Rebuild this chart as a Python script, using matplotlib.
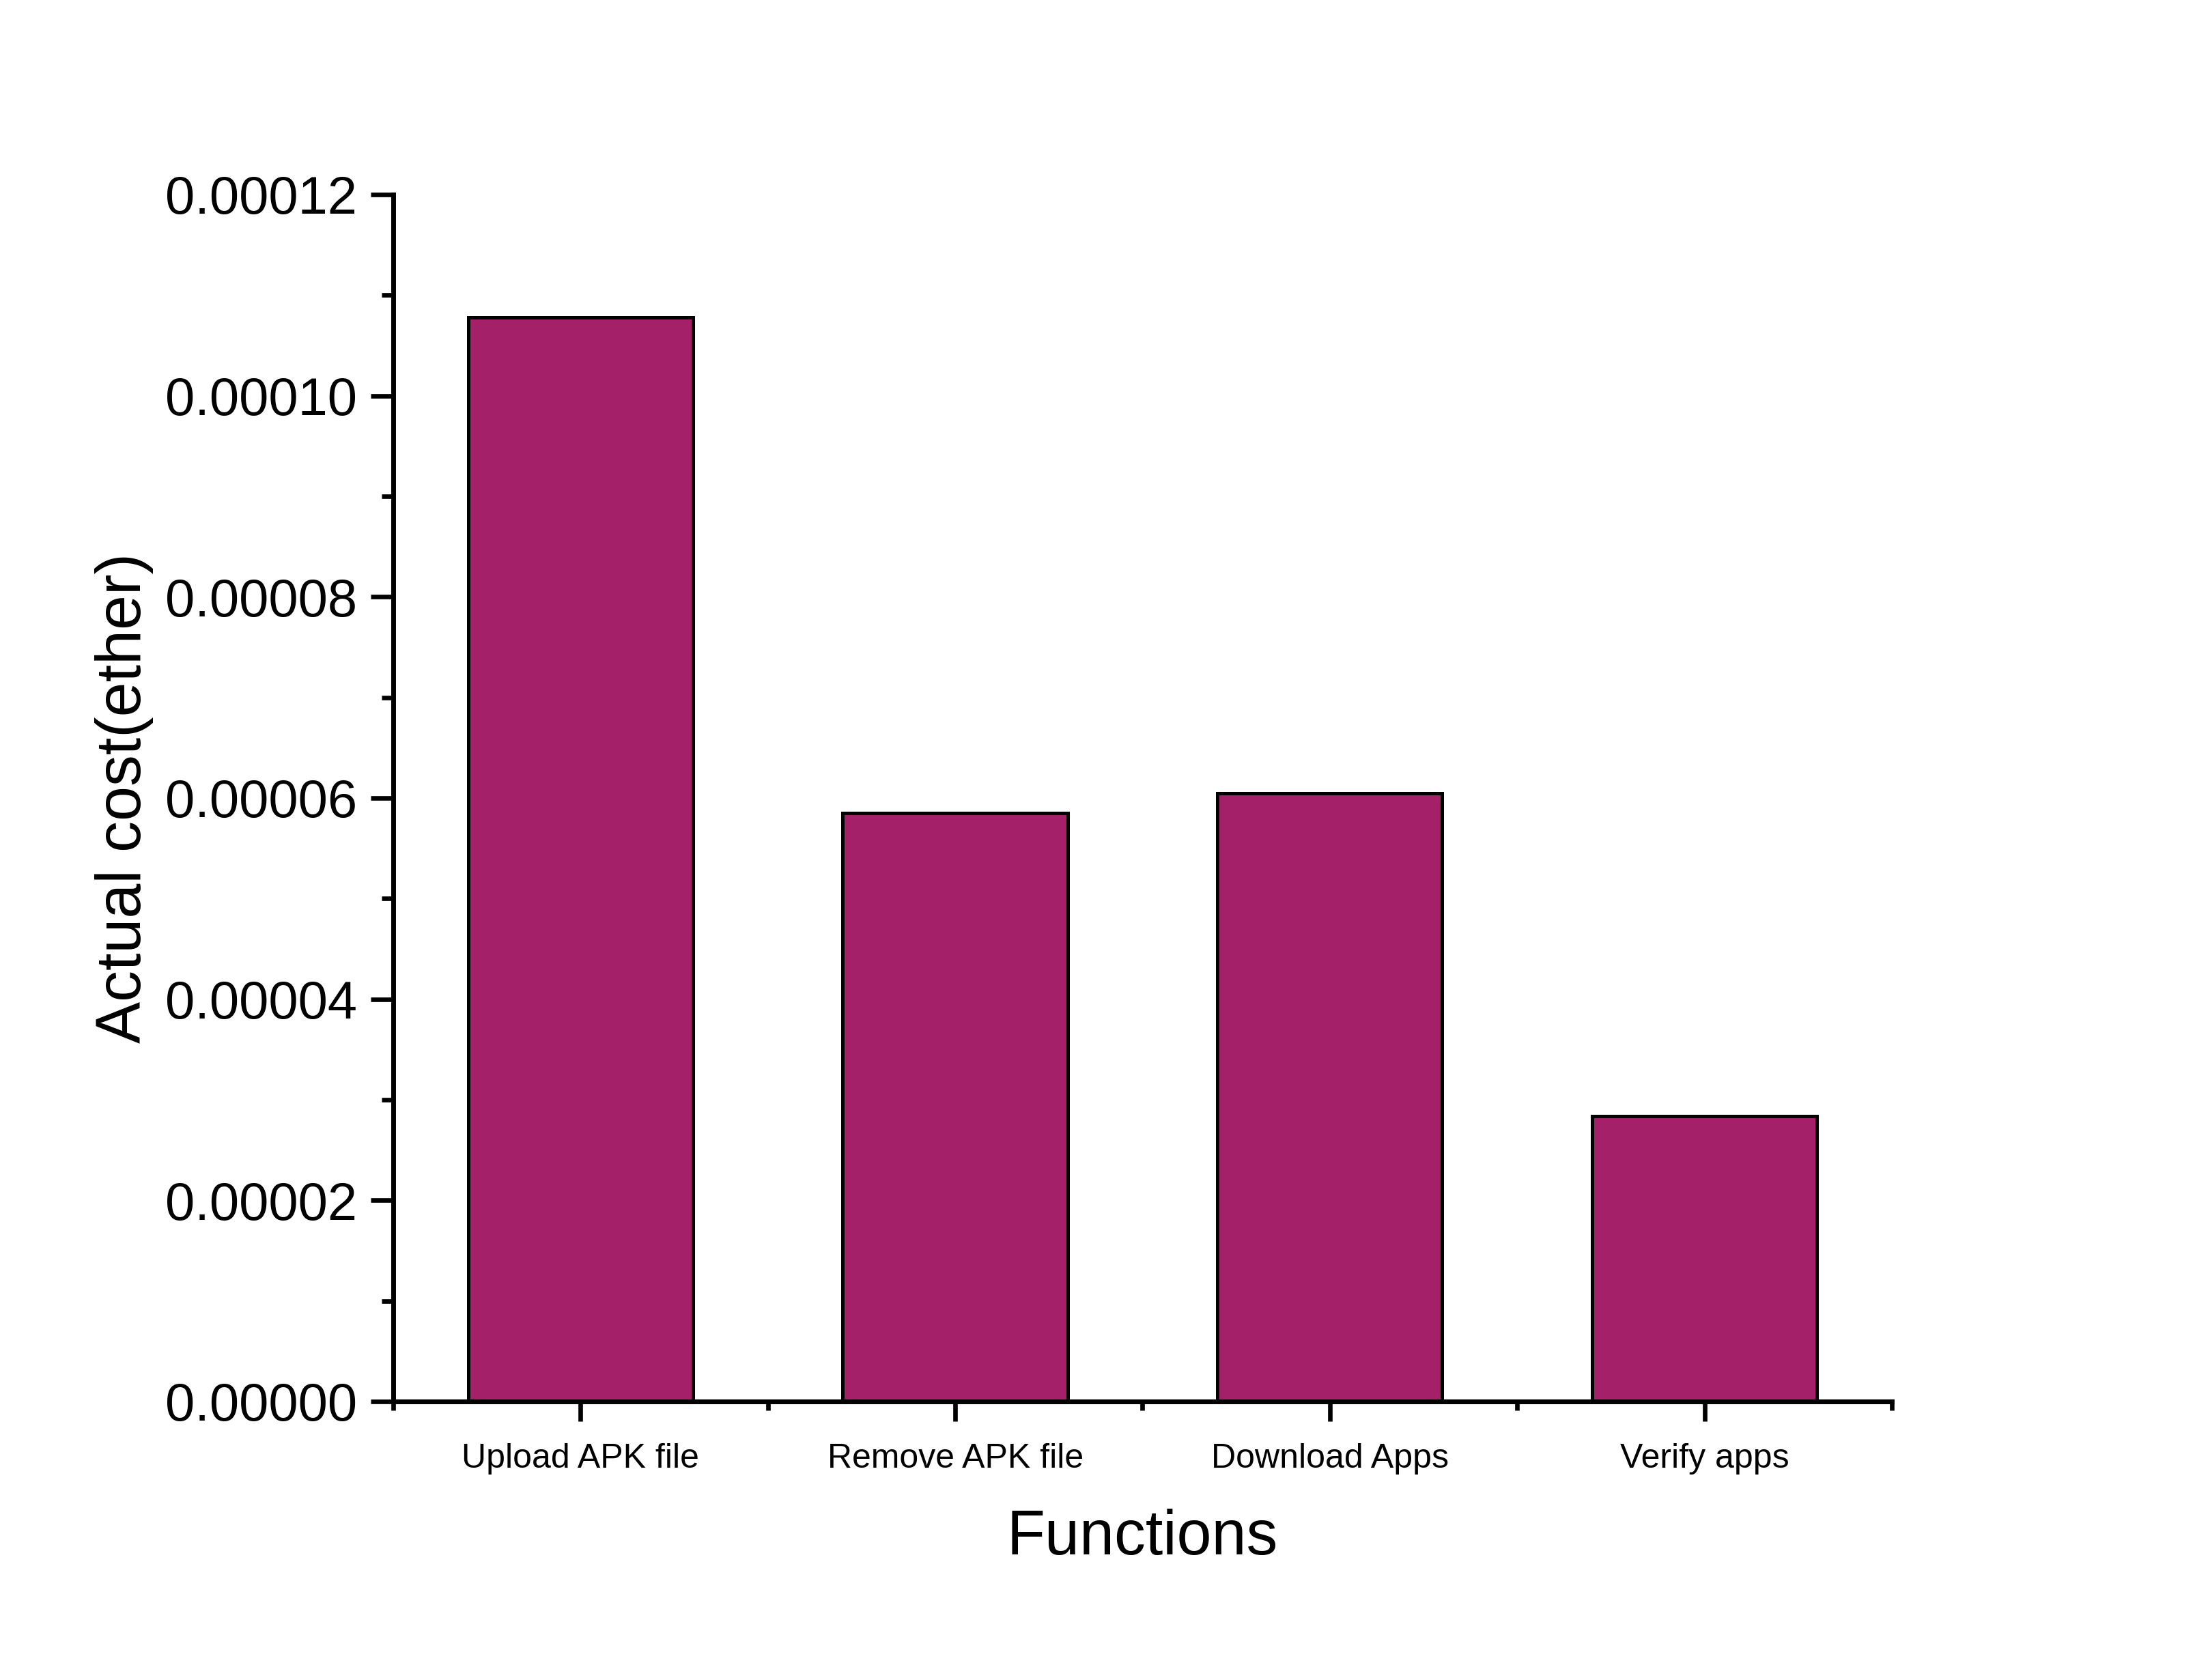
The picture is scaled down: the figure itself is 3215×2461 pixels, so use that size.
import matplotlib
matplotlib.use("Agg")
import matplotlib.pyplot as plt
from matplotlib.ticker import MultipleLocator, FormatStrFormatter, FixedLocator

# data
functions = ["Upload APK file", "Remove APK file", "Download Apps", "Verify apps"]
cost = [0.0001078, 0.0000585, 0.0000605, 0.0000284]

plt.rcParams["font.family"] = ["Liberation Sans", "DejaVu Sans"]

fig = plt.figure(figsize=(16.08, 12.305), dpi=200)
ax = fig.add_axes([0.1791, 0.1658, 0.6825, 0.7184])

x = list(range(len(functions)))
ax.bar(x, cost, width=0.6, color="#A42069", edgecolor="black", linewidth=1.8, zorder=2)

ax.set_xlim(-0.5, len(functions) - 0.5)
ax.set_ylim(0, 0.00012)

ax.spines["top"].set_visible(False)
ax.spines["right"].set_visible(False)
ax.spines["left"].set_linewidth(2.5)
ax.spines["bottom"].set_linewidth(2.5)

ax.set_xticks(x)
ax.set_xticklabels(functions, fontsize=18)
ax.xaxis.set_minor_locator(FixedLocator([i - 0.5 for i in range(len(functions) + 1)]))
ax.yaxis.set_major_locator(MultipleLocator(0.00002))
ax.yaxis.set_minor_locator(MultipleLocator(0.00001))
ax.yaxis.set_major_formatter(FormatStrFormatter("%.5f"))

ax.tick_params(axis="y", which="major", direction="out", length=12, width=2.4, labelsize=28, pad=7)
ax.tick_params(axis="y", which="minor", direction="out", length=6, width=2.4)
ax.tick_params(axis="x", which="major", direction="out", length=10.5, width=2.4, pad=11.5)
ax.tick_params(axis="x", which="minor", direction="out", length=4.5, width=2.4)

ax.set_xlabel("Functions", fontsize=33)
ax.set_ylabel("Actual cost(ether)", fontsize=33)
ax.xaxis.set_label_coords(0.5, -0.089)
ax.yaxis.set_label_coords(-0.16, 0.5)

fig.savefig("out.png", dpi=200)
